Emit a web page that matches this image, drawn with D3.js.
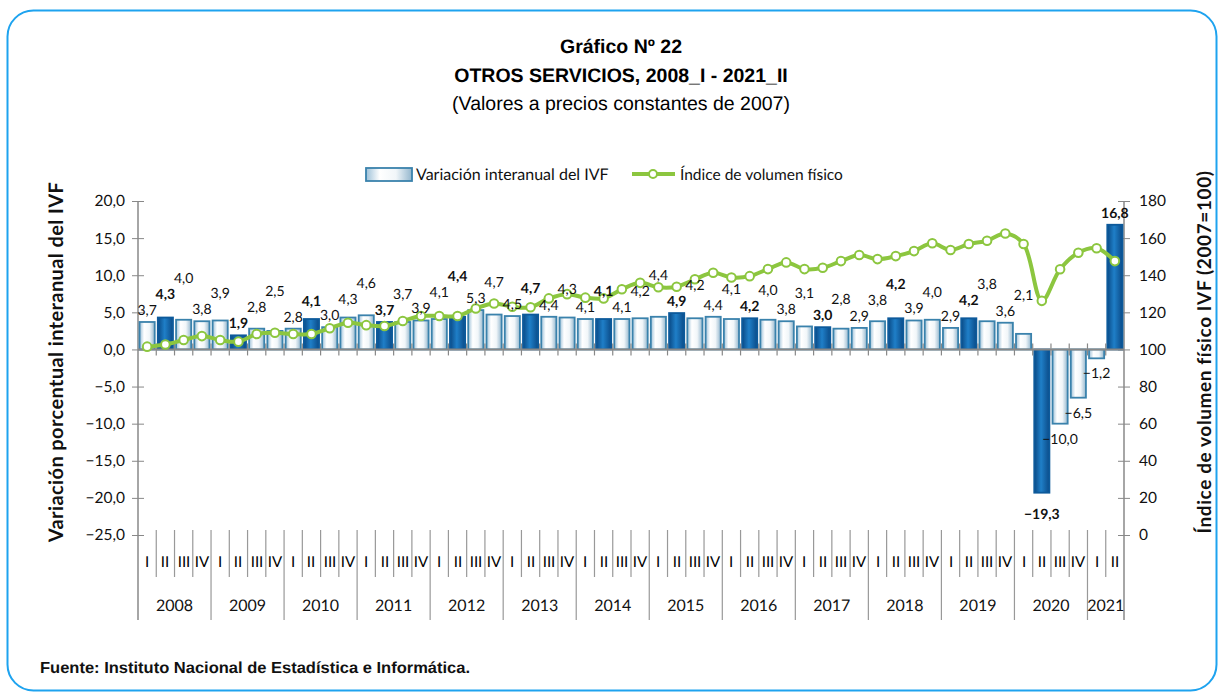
<!DOCTYPE html>
<html>
<head>
<meta charset="utf-8">
<script src="https://cdn.jsdelivr.net/npm/d3@7"></script>
<style>
  body { margin: 0; background: #fff; }
  svg { text-rendering: geometricPrecision; }
  text { font-family: "Lato", "Liberation Sans", sans-serif; }
  .ttl { font-family: "Liberation Sans", Arial, sans-serif; }
  .narrow { font-family: "Liberation Sans Narrow", "Liberation Sans", Arial, sans-serif; }
</style>
</head>
<body>
<script>
// categories
var years = ["2008","2009","2010","2011","2012","2013","2014","2015","2016","2017","2018","2019","2020","2021"];
var quarters = ["I","II","III","IV"];

// Variación interanual del IVF (%)
var variacion = [3.7,4.3,4.0,3.8, 3.9,1.9,2.8,2.5, 2.8,4.1,3.0,4.3, 4.6,3.7,3.7,3.9,
  4.1,4.4,5.3,4.7, 4.5,4.7,4.4,4.3, 4.1,4.1,4.1,4.2, 4.4,4.9,4.2,4.4,
  4.1,4.2,4.0,3.8, 3.1,3.0,2.8,2.9, 3.8,4.2,3.9,4.0, 2.9,4.2,3.8,3.6,
  2.1,-19.3,-10.0,-6.5, -1.2,16.8];

// Índice de volumen físico (2007=100)
var indice = [101.5,102.7,105.1,107.2, 105.1,104.2,108.3,109.0, 108.3,108.3,111.4,114.4,
  113.1,112.6,115.3,118.0, 118.0,118.0,122.1,124.8, 123.0,122.7,127.5,129.8,
  127.9,127.5,132.4,135.9, 133.5,133.8,137.8,141.3, 138.8,139.5,143.3,146.9,
  143.3,144.0,147.6,150.9, 148.7,150.3,153.0,157.2, 153.6,156.8,158.6,162.5,
  156.8,126.2,143.2,152.1, 154.5,147.6];

var leftTicks = [20,15,10,5,0,-5,-10,-15,-20,-25];
var rightTicks = [180,160,140,120,100,80,60,40,20,0];

// build quarter list
var periods = [];
years.forEach(function(y){
  quarters.forEach(function(q){
    if (periods.length < variacion.length) periods.push({year: y, q: q});
  });
});
periods.forEach(function(p, i){ p.key = i; p.v = variacion[i]; p.ivf = indice[i]; });

var W = 1226, H = 697;
var svg = d3.select("body").append("svg").attr("width", W).attr("height", H);
var fmt = function(d){ return d3.format(".1f")(d).replace(".", ","); };

// frame
svg.append("rect").attr("x", 7.5).attr("y", 10.5).attr("width", 1209).attr("height", 680)
  .attr("rx", 26).attr("fill", "#fff").attr("stroke", "#1ea3ef").attr("stroke-width", 2);

// titles
svg.append("text").attr("class","ttl").attr("x", 621).attr("y", 53).attr("text-anchor","middle")
  .attr("font-size", 19.5).attr("font-weight","bold").text("Gráfico Nº 22");
svg.append("text").attr("class","ttl").attr("x", 621).attr("y", 82).attr("text-anchor","middle")
  .attr("font-size", 19.5).attr("font-weight","bold").text("OTROS SERVICIOS, 2008_I - 2021_II");
svg.append("text").attr("class","ttl").attr("x", 621).attr("y", 110).attr("text-anchor","middle")
  .attr("font-size", 19.5).text("(Valores a precios constantes de 2007)");

// gradients
var defs = svg.append("defs");
var gl = defs.append("linearGradient").attr("id","gLight").attr("x1","0").attr("x2","1").attr("y1","0").attr("y2","0");
gl.append("stop").attr("offset","0").attr("stop-color","#9cc0d8");
gl.append("stop").attr("offset","0.3").attr("stop-color","#ffffff");
gl.append("stop").attr("offset","0.65").attr("stop-color","#f1f6f9");
gl.append("stop").attr("offset","1").attr("stop-color","#93b6cd");
var gd = defs.append("linearGradient").attr("id","gDark").attr("x1","0").attr("x2","1").attr("y1","0").attr("y2","0");
gd.append("stop").attr("offset","0").attr("stop-color","#0a4a86");
gd.append("stop").attr("offset","0.45").attr("stop-color","#1f7fc8");
gd.append("stop").attr("offset","1").attr("stop-color","#0b4b88");

// scales
var x = d3.scaleBand().domain(periods.map(function(d){ return d.key; }))
  .range([138, 1124]).paddingInner(0.17).paddingOuter(0.085);
var yL = d3.scaleLinear().domain([-25, 20]).range([535, 201]);
var yR = d3.scaleLinear().domain([0, 180]).range([535, 201]);
var step = x.step();
var x0 = 138;
var cx = function(d){ return x(d.key) + x.bandwidth()/2; };

// left axis
var axL = svg.append("g").attr("transform","translate(138,0)")
  .call(d3.axisLeft(yL).tickValues(leftTicks).tickSize(6).tickPadding(7).tickFormat(fmt));
axL.select(".domain").remove();
axL.selectAll(".tick line").attr("x2", -6).attr("x1", 6).attr("stroke", "#888");
axL.selectAll("text").attr("font-size", 15.5).attr("fill", "#111").attr("font-family", "Lato, sans-serif");

// right axis
var axR = svg.append("g").attr("transform","translate(1124,0)")
  .call(d3.axisRight(yR).tickValues(rightTicks).tickSize(6).tickPadding(9));
axR.select(".domain").remove();
axR.selectAll(".tick line").attr("x1", -6).attr("x2", 6).attr("stroke", "#888");
axR.selectAll("text").attr("font-size", 15.5).attr("fill", "#111").attr("font-family", "Lato, sans-serif");

// vertical axis lines
svg.append("line").attr("x1",138).attr("x2",138).attr("y1",201).attr("y2",620).attr("stroke","#888").attr("stroke-width",1.5);
svg.append("line").attr("x1",1124).attr("x2",1124).attr("y1",201).attr("y2",620).attr("stroke","#888").attr("stroke-width",1.5);

// category separators below the plot
var sep = svg.append("g");
d3.range(1, periods.length).forEach(function(i){
  var xx = x0 + i * step;
  var yearEdge = i % 4 === 0;
  sep.append("line").attr("x1", xx).attr("x2", xx).attr("y1", 530).attr("y2", yearEdge ? 620 : 577)
    .attr("stroke", "#999").attr("stroke-width", 1.2);
});
sep.selectAll("text.q").data(periods).enter().append("text").attr("class","q")
  .attr("x", function(d){ return Math.round(cx(d)); })
  .attr("y", 567).attr("text-anchor","middle").attr("font-size", 15).attr("fill","#000")
  .text(function(d){ return d.q; });
var yearGroups = d3.groups(periods, function(d){ return d.year; });
sep.selectAll("text.yr").data(yearGroups).enter().append("text").attr("class","yr")
  .attr("x", function(g){ var a = g[1][0].key, b = g[1][g[1].length-1].key; return (x(a) + x(b) + x.bandwidth())/2; })
  .attr("y", 611).attr("text-anchor","middle").attr("font-size", 16).attr("fill","#111")
  .text(function(g){ return g[0]; });

// bars
svg.append("g").selectAll("rect").data(periods).enter().append("rect")
  .attr("x", function(d){ return x(d.key); })
  .attr("width", x.bandwidth())
  .attr("y", function(d){ return yL(Math.max(0, d.v)); })
  .attr("height", function(d){ return Math.abs(yL(d.v) - yL(0)); })
  .attr("fill", function(d){ return d.q === "II" ? "url(#gDark)" : "url(#gLight)"; })
  .attr("stroke", function(d){ return d.q === "II" ? "#0d5a9b" : "#3a82ac"; })
  .attr("stroke-width", 1.8);

// zero line with ticks at band edges
svg.append("line").attr("x1",138).attr("x2",1124).attr("y1",yL(0)).attr("y2",yL(0)).attr("stroke","#888").attr("stroke-width",2);
svg.append("g").selectAll("line").data(d3.range(1, periods.length)).enter().append("line")
  .attr("x1", function(i){ return x0 + i*step; }).attr("x2", function(i){ return x0 + i*step; })
  .attr("y1", yL(0) - 6).attr("y2", yL(0) + 6).attr("stroke","#888").attr("stroke-width",1.2);

// line series
var line = d3.line().x(cx).y(function(d){ return yR(d.ivf); }).curve(d3.curveCatmullRom.alpha(0.5));
svg.append("path").datum(periods).attr("d", line).attr("fill","none").attr("stroke","#8cc63f").attr("stroke-width",4);
svg.append("g").selectAll("circle").data(periods).enter().append("circle")
  .attr("cx", cx).attr("cy", function(d){ return yR(d.ivf); })
  .attr("r", 4.3).attr("fill","#fff").attr("stroke","#8cc63f").attr("stroke-width",2);

// data labels, lifted when they would collide with the previous ones
var labels = svg.append("g").selectAll("text").data(periods).enter().append("text")
  .attr("x", cx)
  .attr("y", function(d){ return d.v >= 0 ? yL(d.v) - 7 : yL(d.v) + (d.q === "II" ? 26 : 20); })
  .attr("text-anchor","middle").attr("font-size", 14).attr("fill","#111")
  .attr("font-weight", function(d){ return d.q === "II" ? "bold" : "normal"; })
  .text(function(d){ return fmt(d.v); });
var placed = [];
labels.each(function(d){
  if (d.v < 0) return;
  var el = d3.select(this);
  var w = this.getComputedTextLength();
  var y = +el.attr("y");
  var left = cx(d) - w/2, right = cx(d) + w/2;
  var moved = true;
  while (moved) {
    moved = false;
    placed.forEach(function(p){
      if (left < p.r + 1 && right > p.l - 1 && Math.abs(y - p.y) < 14) { y = p.y - 16; moved = true; }
    });
  }
  el.attr("y", y);
  placed.push({l: left, r: right, y: y});
  if (placed.length > 3) placed.shift();
});

// axis titles
svg.append("text").attr("transform","translate(63,362) rotate(-90)").attr("text-anchor","middle")
  .attr("font-size", 20).attr("letter-spacing", 0.4).attr("font-weight","bold").attr("fill","#111")
  .text("Variación porcentual interanual del IVF");
svg.append("text").attr("transform","translate(1211,352) rotate(-90)").attr("text-anchor","middle")
  .attr("font-size", 19).attr("letter-spacing", 0.6).attr("font-weight","bold").attr("fill","#111")
  .text("Índice de volumen físico IVF (2007=100)");

// legend
var lg = svg.append("g");
lg.append("rect").attr("x",366).attr("y",168).attr("width",46).attr("height",13)
  .attr("fill","url(#gLight)").attr("stroke","#3a82ac").attr("stroke-width",1.8);
lg.append("text").attr("x",416).attr("y",180).attr("font-size",16).attr("fill","#111").text("Variación interanual del IVF");
lg.append("line").attr("x1",632).attr("x2",675).attr("y1",174).attr("y2",174).attr("stroke","#8cc63f").attr("stroke-width",4);
lg.append("circle").attr("cx",653).attr("cy",174).attr("r",4).attr("fill","#fff").attr("stroke","#8cc63f").attr("stroke-width",2);
lg.append("text").attr("x",680).attr("y",180).attr("font-size",15.5).attr("fill","#111").text("Índice de volumen físico");

// source
svg.append("text").attr("class","narrow").attr("x",40).attr("y",673).attr("font-size",16).attr("font-weight","bold")
  .attr("fill","#111").attr("textLength", 430).attr("lengthAdjust","spacingAndGlyphs")
  .text("Fuente: Instituto Nacional de Estadística e Informática.");
</script>
</body>
</html>
